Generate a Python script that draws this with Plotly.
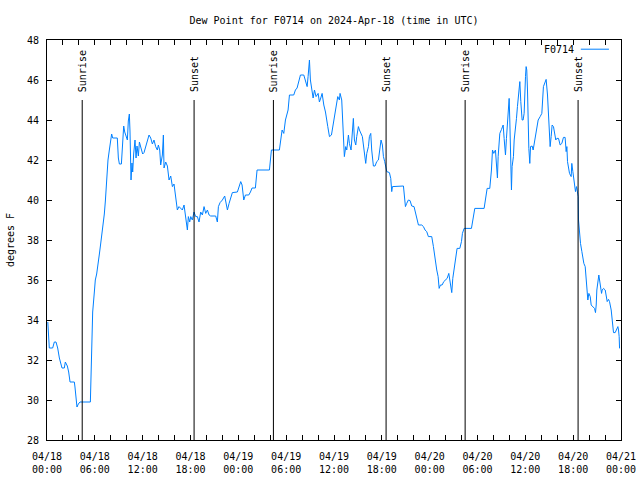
import pandas as pd
import plotly.graph_objects as go

# ---------------- data ----------------
start = pd.Timestamp("2024-04-18 00:00")

# hours since 2024-04-18 00:00 UTC
hours = [
    0.10, 0.21, 0.29, 0.71, 0.92, 1.13, 1.34, 1.55, 1.76, 1.88, 2.17, 2.30, 2.55, 2.72, 2.89,
    3.43, 3.51, 3.64, 3.76, 3.93, 4.14, 5.44, 5.52, 5.60, 5.73, 5.94, 6.06, 6.23, 6.44, 6.57,
    6.73, 6.90, 7.07, 7.19, 7.32, 7.44, 7.53, 7.65, 7.82, 7.95, 8.11, 8.24, 8.82, 8.95, 9.08,
    9.33, 9.49, 9.62, 9.75, 9.91, 10.08, 10.20, 10.33, 10.41, 10.54, 10.66, 10.75, 10.87, 11.04,
    11.17, 11.29, 11.46, 11.59, 11.79, 12.00,
    12.17, 12.38, 12.59, 12.80, 13.01, 13.22, 13.42, 13.63, 13.84, 13.97, 14.14, 14.26, 14.47,
    14.60, 14.68, 14.89, 15.10, 15.31, 15.52, 15.73, 15.93, 16.14, 16.35, 16.56, 16.77, 16.98,
    17.19, 17.31, 17.48, 17.61, 17.73, 17.90, 18.03, 18.23, 18.44, 18.65, 18.86, 19.07, 19.28,
    19.49, 19.70, 19.91, 20.12, 20.33, 20.53, 21.16, 21.37, 21.50, 21.71, 22.00, 22.29, 22.42,
    22.63, 22.84, 23.04, 23.25, 23.88, 24.09, 24.30,
    24.47, 24.68, 24.89, 25.31, 25.52, 25.72, 26.14, 26.35, 27.90, 28.15, 29.15, 29.36, 29.49,
    29.70, 29.91, 30.24, 30.41, 30.95, 31.16, 31.37, 31.58, 31.79, 32.21, 32.42, 32.63, 32.75,
    32.92, 33.04, 33.25, 33.38, 33.55, 33.75, 34.01, 34.17, 34.34, 34.51, 34.72, 34.93, 35.22,
    35.43, 35.68, 35.97, 36.26, 36.47, 36.68,
    36.76, 36.97, 37.09, 37.18, 37.30, 37.47, 37.60, 37.81, 37.93, 38.14, 38.31, 38.43, 38.56,
    38.73, 38.85, 39.06, 39.19, 39.35, 39.56, 39.69, 39.90, 39.98, 40.11, 40.32, 40.44, 40.61,
    40.73, 40.94, 41.15, 41.36, 41.57, 41.78, 41.90, 42.07, 42.20, 42.36, 42.49, 42.62, 42.95,
    43.12, 43.24, 43.33, 44.71, 44.83, 44.96, 45.12, 45.33, 45.54, 45.75, 46.04, 46.38, 46.59,
    47.01, 47.22, 47.42, 47.63, 47.84, 48.26, 48.47, 48.68, 48.89,
    49.06, 49.19, 49.35, 49.56, 49.77, 49.98, 50.19, 50.40, 50.52, 50.65, 50.77, 50.90, 51.07,
    51.28, 51.44, 51.78, 51.99, 52.11, 52.32, 53.24, 53.45, 53.66, 54.83, 55.00, 55.21, 55.54,
    55.75, 55.88, 56.04, 56.25, 56.38, 56.50, 56.59, 56.71, 56.80, 57.01, 57.22, 57.34, 57.51,
    57.63, 57.76, 57.88, 57.97, 58.05, 58.18, 58.26, 58.34, 58.51, 58.60, 58.76, 58.89, 59.01,
    59.18, 59.31, 59.43, 59.60, 59.72, 59.85, 60.02, 60.10, 60.18, 60.27, 60.44, 60.56, 60.65,
    60.85, 60.98, 61.19, 61.40,
    61.61, 61.86, 62.07, 62.27, 62.48, 62.61, 62.78, 62.90, 63.03, 63.11, 63.24, 63.36, 63.53,
    63.70, 63.82, 63.95, 64.16, 64.37, 64.58, 64.78, 64.99, 65.12,
    65.21, 65.29, 65.54, 65.75, 65.83, 65.96, 66.09, 66.21, 66.29, 66.42, 66.55, 66.63, 66.67,
    66.80, 66.92, 67.09, 67.22, 67.34, 67.51, 67.63, 67.72, 67.84, 67.97, 68.14, 68.26, 68.47,
    68.68, 68.80, 68.89, 68.97, 69.10, 69.22, 69.31, 69.43, 69.56, 69.64, 69.81, 70.02, 70.14,
    70.27, 70.44, 70.56, 70.77, 70.90, 71.06, 71.27, 71.48, 71.61, 71.69, 71.77, 71.82,
]

# dew point, degrees F
dewpoint = [
    33.9, 33.2, 32.6, 32.6, 32.9, 32.9, 32.6, 32.1, 31.8, 31.6, 31.6, 31.9, 31.7, 31.4, 30.9,
    30.9, 30.65, 30.15, 29.65, 29.8, 29.9, 29.9, 30.9, 32.9, 34.4, 35.4, 36.0, 36.3, 36.8, 37.3,
    37.8, 38.3, 38.8, 39.3, 39.95, 40.65, 41.5, 42.0, 42.5, 43.0, 43.3, 43.1, 43.1, 42.1, 41.8,
    41.8, 43.2, 43.7, 43.4, 43.2, 43.0, 43.95, 44.3, 43.45, 41.0, 41.85, 41.4, 42.3, 43.0,
    42.1, 42.7, 42.2, 42.9, 42.6, 42.3,
    42.37, 42.67, 43.0, 43.25, 43.1, 42.8, 43.0, 42.67, 42.5, 42.75, 42.5, 41.75, 42.25,
    43.25, 41.6, 41.9, 41.7, 41.0, 41.2, 40.67, 40.8, 40.17, 39.5, 39.67, 39.6, 39.5,
    39.75, 39.33, 39.0, 38.5, 39.17, 38.9, 39.17, 39.0, 39.4, 39.17, 39.17, 38.9, 39.4,
    39.25, 39.67, 39.33, 39.5, 39.25, 39.2, 39.2, 38.9, 39.67, 39.87, 40.0, 40.2, 39.83,
    39.5, 39.83, 40.17, 40.37, 40.4, 40.67, 40.92,
    40.75, 40.0, 40.25, 40.25, 40.4, 40.6, 40.6, 41.5, 41.5, 42.5, 42.5, 43.25, 43.5,
    43.33, 44.0, 44.5, 45.25, 45.25, 45.5, 45.6, 45.9, 46.25, 46.25, 46.0, 45.67, 46.17,
    47.0, 46.0, 45.4, 45.1, 45.5, 45.17, 45.33, 44.9, 45.1, 45.33, 44.75, 44.4, 43.67,
    43.17, 43.25, 44.0, 44.75, 45.17, 45.0,
    45.33, 45.0, 44.0, 42.83, 42.17, 42.67, 42.5, 43.25, 42.83, 42.5, 43.67, 44.08, 43.0,
    42.75, 43.17, 43.67, 43.5, 43.33, 43.17, 42.75, 42.0, 41.83, 42.33, 42.67, 43.17, 43.33,
    42.5, 41.7, 41.7, 41.92, 42.0, 42.75, 43.0, 42.75, 42.17, 41.92, 41.58, 41.42, 41.37,
    41.08, 40.42, 40.67, 40.7, 40.03, 39.67, 39.83, 40.0, 39.97, 39.7, 39.67, 39.0, 38.75,
    38.75, 38.67, 38.5, 38.42, 38.17, 38.17, 37.67, 37.0, 36.5,
    36.17, 35.58, 35.75, 35.75, 35.92, 36.03, 36.08, 36.33, 35.92, 35.58, 35.37, 36.08, 36.5,
    37.0, 37.58, 37.58, 37.92, 38.33, 38.58, 38.58, 39.0, 39.58, 39.58, 40.08, 40.58, 40.58,
    41.5, 42.5, 42.33, 42.5, 41.67, 41.1, 42.17, 42.67, 43.33, 43.53, 43.75, 43.08, 42.25,
    43.08, 43.92, 44.67, 45.08, 44.0, 42.17, 40.5, 41.67, 42.17, 43.0, 43.5, 44.08, 44.67,
    45.5, 45.92, 44.92, 44.0, 44.0, 44.33, 46.17, 46.67, 46.5, 45.5, 42.58, 41.83, 42.67,
    42.7, 42.5, 43.08, 43.58,
    44.0, 44.17, 44.33, 45.67, 45.9, 46.03, 45.25, 44.08, 43.08, 42.67, 43.17, 43.75, 43.67,
    43.25, 43.0, 43.08, 43.08, 42.75, 42.83, 43.13, 43.13, 42.42,
    42.67, 41.92, 41.33, 41.17, 41.83, 41.42, 41.0, 40.67, 40.42, 40.67, 40.42, 40.17, 39.0,
    38.33, 37.83, 37.42, 37.08, 36.83, 36.67, 36.17, 35.42, 35.0, 35.33, 35.17, 34.75, 34.67,
    34.58, 34.37, 34.75, 35.5, 36.0, 36.25, 36.0, 35.67, 35.33, 35.5, 35.58, 35.5, 35.25,
    34.92, 35.03, 34.92, 34.5, 34.08, 33.37, 33.37, 33.58, 33.67, 33.5, 33.17, 32.58,
]

tick_hours = [0, 6, 12, 18, 24, 30, 36, 42, 48, 54, 60, 66, 72]
tick_labels = [
    "04/18<br>00:00", "04/18<br>06:00", "04/18<br>12:00", "04/18<br>18:00",
    "04/19<br>00:00", "04/19<br>06:00", "04/19<br>12:00", "04/19<br>18:00",
    "04/20<br>00:00", "04/20<br>06:00", "04/20<br>12:00", "04/20<br>18:00",
    "04/21<br>00:00",
]
y_ticks = [28, 30, 32, 34, 36, 38, 40, 42, 44, 46, 48]

sun_events = ["Sunrise", "Sunset", "Sunrise", "Sunset", "Sunrise", "Sunset"]
sun_times = ["2024-04-18 04:25", "2024-04-18 18:27", "2024-04-19 04:24",
             "2024-04-19 18:32", "2024-04-20 04:27", "2024-04-20 18:37"]
sun_line_top = 45

series_name = "F0714"
title_text = "Dew Point for F0714 on 2024-Apr-18 (time in UTC)"

# ---------------- figure ----------------
FONT = "DejaVu Sans Mono"
LINE_COLOR = "#0080ff"

times = start + pd.to_timedelta(hours, unit="h")
tick_times = start + pd.to_timedelta(tick_hours, unit="h")

fig = go.Figure()
fig.add_trace(go.Scatter(
    x=times, y=dewpoint, mode="lines", name=series_name,
    line=dict(color=LINE_COLOR, width=1), showlegend=False,
))

shapes = []
annotations = []
for label, t in zip(sun_events, sun_times):
    shapes.append(dict(type="line", xref="x", yref="y", x0=t, x1=t,
                       y0=28, y1=sun_line_top, line=dict(color="black", width=1)))
    annotations.append(dict(x=t, y=sun_line_top, xref="x", yref="y", text=label,
                            showarrow=False, textangle=-90, xanchor="center",
                            yanchor="bottom", yshift=7, borderpad=0,
                            font=dict(family=FONT, size=10, color="black")))

# legend-like key (gnuplot style: text then line sample)
annotations.append(dict(x=0.922, y=0.977, xref="paper", yref="paper", text=series_name,
                        showarrow=False, xanchor="right", yanchor="middle",
                        font=dict(family=FONT, size=10, color="black")))
shapes.append(dict(type="line", xref="paper", yref="paper", x0=0.930, x1=0.979,
                   y0=0.977, y1=0.977, line=dict(color=LINE_COLOR, width=1)))

fig.update_layout(
    width=640, height=480,
    margin=dict(l=47, r=19, t=40, b=40, autoexpand=False),
    paper_bgcolor="white", plot_bgcolor="white",
    font=dict(family=FONT, size=10, color="black"),
    title=dict(text=title_text, x=0.5, xref="paper", y=1 - 20 / 480, yref="container",
               xanchor="center", yanchor="middle",
               font=dict(family=FONT, size=10, color="black")),
    shapes=shapes, annotations=annotations,
    showlegend=False,
)

fig.update_xaxes(
    type="date", automargin=False,
    range=[tick_times[0], tick_times[-1]],
    tickmode="array", tickvals=tick_times, ticktext=tick_labels,
    ticks="inside", ticklen=5, tickcolor="black", tickwidth=1,
    ticklabelstandoff=7,
    showline=True, linecolor="black", linewidth=1, mirror="ticks",
    showgrid=False, zeroline=False,
    minor=dict(tickmode="linear", tick0=tick_times[0], dtick=2 * 3600 * 1000,
               ticks="inside", ticklen=5, tickcolor="black", showgrid=False),
    tickfont=dict(family=FONT, size=10, color="black"),
)
fig.update_yaxes(
    automargin=False,
    range=[28, 48],
    tickmode="array", tickvals=y_ticks,
    ticks="inside", ticklen=5, tickcolor="black", tickwidth=1,
    ticklabelstandoff=5,
    showline=True, linecolor="black", linewidth=1, mirror="ticks",
    showgrid=False, zeroline=False,
    title=dict(text="degrees F", standoff=10, font=dict(family=FONT, size=10, color="black")),
    tickfont=dict(family=FONT, size=10, color="black"),
)

fig.write_html("out.html")
